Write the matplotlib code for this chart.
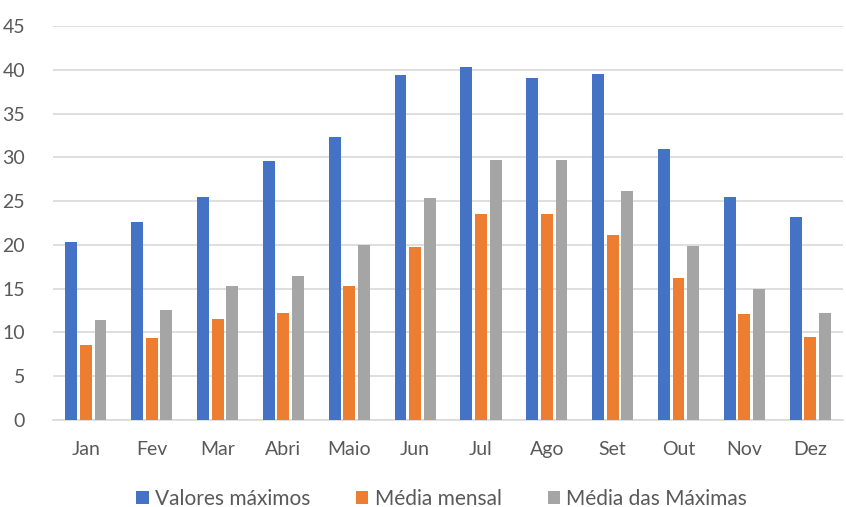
import numpy as np
import matplotlib
matplotlib.use("Agg")
import matplotlib.pyplot as plt

plt.rcParams['font.family'] = ['Lato', 'DejaVu Sans']

meses = ['Jan', 'Fev', 'Mar', 'Abri', 'Maio', 'Jun', 'Jul', 'Ago', 'Set', 'Out', 'Nov', 'Dez']
valores_maximos = [20.3, 22.6, 25.5, 29.6, 32.3, 39.4, 40.3, 39.1, 39.5, 31.0, 25.5, 23.2]
media_mensal = [8.5, 9.4, 11.5, 12.2, 15.3, 19.8, 23.5, 23.5, 21.1, 16.2, 12.1, 9.5]
media_maximas = [11.4, 12.6, 15.3, 16.4, 20.0, 25.4, 29.7, 29.7, 26.2, 19.9, 14.9, 12.2]

series = [
    ('Valores máximos', valores_maximos, '#4472C4'),
    ('Média mensal', media_mensal, '#ED7D31'),
    ('Média das Máximas', media_maximas, '#A5A5A5'),
]

fig = plt.figure(figsize=(8.46, 5.07), dpi=100)
ax = fig.add_axes([0.0626, 0.172, 0.934, 0.7767])

x = np.arange(len(meses))
width = 0.18
step = 0.222
for i, (name, vals, color) in enumerate(series):
    ax.bar(x + (i - 1) * step, vals, width, color=color, label=name, zorder=3)

ax.set_xlim(-0.5, len(meses) - 0.5)
ax.set_ylim(0, 45)
ax.set_yticks(range(0, 46, 5))
ax.set_xticks(x)
ax.set_xticklabels(meses)
ax.grid(axis='y', color='#D9D9D9', linewidth=1.2, zorder=0)
for s in ['top', 'right', 'left']:
    ax.spines[s].set_visible(False)
ax.spines['bottom'].set_color('#D9D9D9')
ax.spines['bottom'].set_linewidth(1.2)
ax.tick_params(axis='both', length=0, labelsize=14, colors='#595959')
ax.tick_params(axis='x', pad=15)
ax.tick_params(axis='y', pad=20)

fig.legend(loc='lower center', ncol=3, bbox_to_anchor=(0.522, -0.04), frameon=False,
           fontsize=15, labelcolor='#595959', handlelength=0.6, handleheight=0.6,
           handletextpad=0.3, columnspacing=2.2)

fig.savefig('out.png', dpi=100)
